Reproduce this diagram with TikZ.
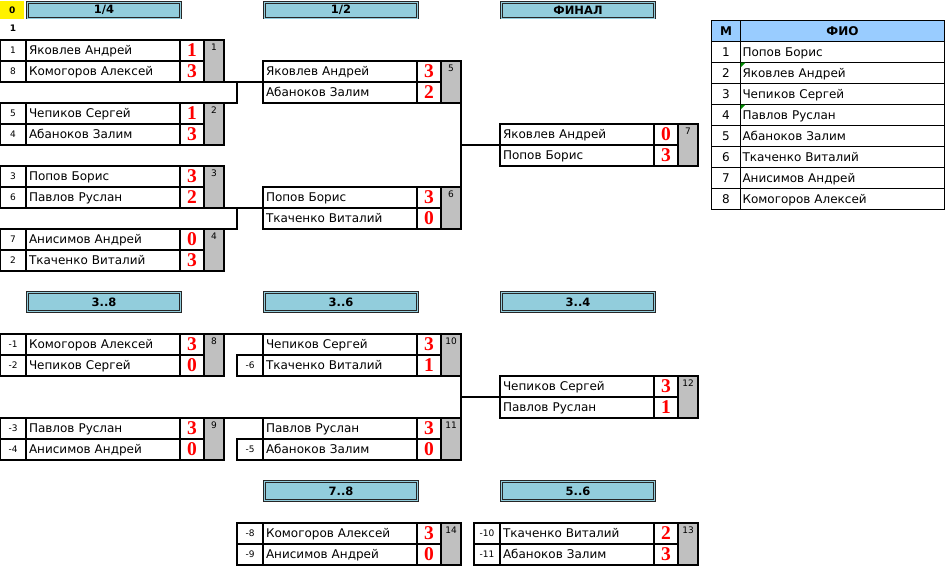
\documentclass[tikz,border=0pt]{standalone}
\usepackage{fontspec}
\setmainfont{DejaVu Sans}
\newfontfamily\scorefont{Liberation Serif}
\definecolor{hdrblue}{RGB}{146,205,220}
\definecolor{tblblue}{RGB}{153,204,255}
\definecolor{cellgray}{RGB}{192,192,192}
\begin{document}
\begin{tikzpicture}[x=1pt, y=-1pt,
  cell/.style={draw, line width=2pt, inner sep=0pt, outer sep=0pt, anchor=north west, minimum height=21pt},
  seedbox/.style={cell, minimum width=26pt, text height=6.5pt, text depth=0pt, font=\fontsize{9}{9}\selectfont},
  namebox/.style={cell, minimum width=154pt, text width=148pt, inner xsep=3pt, align=left, text height=10pt, text depth=0.5pt, font=\fontsize{12}{12}\selectfont},
  scorebox/.style={cell, minimum width=24pt, text=red, font=\scorefont\bfseries\fontsize{19.5}{19.5}\selectfont},
  numbox/.style={cell, minimum width=20pt, minimum height=42pt, fill=cellgray},
  numlbl/.style={anchor=north, inner sep=4.5pt, font=\fontsize{9}{9}\selectfont},
  hdrbox/.style={draw=black!85, double=hdrblue, double distance=1pt, line width=0.8pt, fill=hdrblue, anchor=north west, inner sep=0pt, outer sep=0pt, minimum width=153pt, font=\bfseries\fontsize{11.5}{11.5}\selectfont},
  tblbox/.style={draw, line width=0.8pt, inner sep=0pt, outer sep=0pt, anchor=north west, minimum height=21pt, font=\fontsize{12}{12}\selectfont},
  tblnum/.style={tblbox, minimum width=29pt},
  tblname/.style={tblbox, minimum width=204pt, text width=200pt, inner xsep=2pt, align=left, text height=10pt, text depth=0.5pt},
  link/.style={line width=2pt}]
\useasboundingbox (0,0) rectangle (945,565);
\node[fill=yellow, anchor=north west, minimum width=24pt, minimum height=18pt, inner sep=0pt, font=\bfseries\fontsize{9}{9}\selectfont] (zero) at (0,1){0};
\node[font=\bfseries\fontsize{9}{9}\selectfont] (rnd) at (13,28){1};
\node[hdrbox, minimum height=15.5pt] (h14) at (27.5,2.5){1/4};
\node[hdrbox, minimum height=15.5pt] (h12) at (264.5,2.5){1/2};
\node[hdrbox, minimum height=15.5pt] (hfin) at (501.5,2.5){ФИНАЛ};
\node[hdrbox, minimum height=19pt] (h38) at (27.5,292.5){3..8};
\node[hdrbox, minimum height=19pt] (h36) at (264.5,292.5){3..6};
\node[hdrbox, minimum height=19pt] (h34) at (501.5,292.5){3..4};
\node[hdrbox, minimum height=19pt] (h78) at (264.5,481.5){7..8};
\node[hdrbox, minimum height=19pt] (h56) at (501.5,481.5){5..6};

\node[seedbox] (s1a) at (0,39.5){1};
\node[namebox] (n1a) at (26,39.5){Яковлев Андрей};
\node[scorebox] (r1a) at (180,39.5){1};
\node[seedbox] (s1b) at (0,60.5){8};
\node[namebox] (n1b) at (26,60.5){Комогоров Алексей};
\node[scorebox] (r1b) at (180,60.5){3};
\node[numbox, label={[numlbl]north:1}] (m1) at (204,39.5){};
\node[seedbox] (s2a) at (0,102.5){5};
\node[namebox] (n2a) at (26,102.5){Чепиков Сергей};
\node[scorebox] (r2a) at (180,102.5){1};
\node[seedbox] (s2b) at (0,123.5){4};
\node[namebox] (n2b) at (26,123.5){Абаноков Залим};
\node[scorebox] (r2b) at (180,123.5){3};
\node[numbox, label={[numlbl]north:2}] (m2) at (204,102.5){};
\node[seedbox] (s3a) at (0,165.5){3};
\node[namebox] (n3a) at (26,165.5){Попов Борис};
\node[scorebox] (r3a) at (180,165.5){3};
\node[seedbox] (s3b) at (0,186.5){6};
\node[namebox] (n3b) at (26,186.5){Павлов Руслан};
\node[scorebox] (r3b) at (180,186.5){2};
\node[numbox, label={[numlbl]north:3}] (m3) at (204,165.5){};
\node[seedbox] (s4a) at (0,228.5){7};
\node[namebox] (n4a) at (26,228.5){Анисимов Андрей};
\node[scorebox] (r4a) at (180,228.5){0};
\node[seedbox] (s4b) at (0,249.5){2};
\node[namebox] (n4b) at (26,249.5){Ткаченко Виталий};
\node[scorebox] (r4b) at (180,249.5){3};
\node[numbox, label={[numlbl]north:4}] (m4) at (204,228.5){};

\node[namebox] (n5a) at (263,60.5){Яковлев Андрей};
\node[scorebox] (r5a) at (417,60.5){3};
\node[namebox] (n5b) at (263,81.5){Абаноков Залим};
\node[scorebox] (r5b) at (417,81.5){2};
\node[numbox, label={[numlbl]north:5}] (m5) at (441,60.5){};
\node[namebox] (n6a) at (263,186.5){Попов Борис};
\node[scorebox] (r6a) at (417,186.5){3};
\node[namebox] (n6b) at (263,207.5){Ткаченко Виталий};
\node[scorebox] (r6b) at (417,207.5){0};
\node[numbox, label={[numlbl]north:6}] (m6) at (441,186.5){};

\node[namebox] (n7a) at (500,123.5){Яковлев Андрей};
\node[scorebox] (r7a) at (654,123.5){0};
\node[namebox] (n7b) at (500,144.5){Попов Борис};
\node[scorebox] (r7b) at (654,144.5){3};
\node[numbox, label={[numlbl]north:7}] (m7) at (678,123.5){};

\draw[link](m1.south east) -- (n5b.north west);
\coordinate (j2) at (237,102.5);
\draw[link](m2.north east) -- (j2) -- (j2 |- n5b.north west);
\draw[link](m3.south east) -- (n6b.north west);
\coordinate (j4) at (237,228.5);
\draw[link](m4.north east) -- (j4) -- (j4 |- n6b.north west);
\draw[link](m5.south east) -- (m6.north east);
\draw[link](m5.south east |- n7b.north west) -- (n7b.north west);

\node[seedbox] (s8a) at (0,333.5){-1};
\node[namebox] (n8a) at (26,333.5){Комогоров Алексей};
\node[scorebox] (r8a) at (180,333.5){3};
\node[seedbox] (s8b) at (0,354.5){-2};
\node[namebox] (n8b) at (26,354.5){Чепиков Сергей};
\node[scorebox] (r8b) at (180,354.5){0};
\node[numbox, label={[numlbl]north:8}] (m8) at (204,333.5){};
\node[seedbox] (s9a) at (0,417.5){-3};
\node[namebox] (n9a) at (26,417.5){Павлов Руслан};
\node[scorebox] (r9a) at (180,417.5){3};
\node[seedbox] (s9b) at (0,438.5){-4};
\node[namebox] (n9b) at (26,438.5){Анисимов Андрей};
\node[scorebox] (r9b) at (180,438.5){0};
\node[numbox, label={[numlbl]north:9}] (m9) at (204,417.5){};

\node[namebox] (n10a) at (263,333.5){Чепиков Сергей};
\node[scorebox] (r10a) at (417,333.5){3};
\node[seedbox] (s10b) at (237,354.5){-6};
\node[namebox] (n10b) at (263,354.5){Ткаченко Виталий};
\node[scorebox] (r10b) at (417,354.5){1};
\node[numbox, label={[numlbl]north:10}] (m10) at (441,333.5){};
\node[namebox] (n11a) at (263,417.5){Павлов Руслан};
\node[scorebox] (r11a) at (417,417.5){3};
\node[seedbox] (s11b) at (237,438.5){-5};
\node[namebox] (n11b) at (263,438.5){Абаноков Залим};
\node[scorebox] (r11b) at (417,438.5){0};
\node[numbox, label={[numlbl]north:11}] (m11) at (441,417.5){};

\node[namebox] (n12a) at (500,375.5){Чепиков Сергей};
\node[scorebox] (r12a) at (654,375.5){3};
\node[namebox] (n12b) at (500,396.5){Павлов Руслан};
\node[scorebox] (r12b) at (654,396.5){1};
\node[numbox, label={[numlbl]north:12}] (m12) at (678,375.5){};

\draw[link](m8.north east) -- (n10a.north west);
\draw[link](m9.north east) -- (n11a.north west);
\draw[link](m10.south east) -- (m11.north east);
\draw[link](m10.south east |- n12b.north west) -- (n12b.north west);

\node[seedbox] (s14a) at (237,522.5){-8};
\node[namebox] (n14a) at (263,522.5){Комогоров Алексей};
\node[scorebox] (r14a) at (417,522.5){3};
\node[seedbox] (s14b) at (237,543.5){-9};
\node[namebox] (n14b) at (263,543.5){Анисимов Андрей};
\node[scorebox] (r14b) at (417,543.5){0};
\node[numbox, label={[numlbl]north:14}] (m14) at (441,522.5){};
\node[seedbox] (s13a) at (474,522.5){-10};
\node[namebox] (n13a) at (500,522.5){Ткаченко Виталий};
\node[scorebox] (r13a) at (654,522.5){2};
\node[seedbox] (s13b) at (474,543.5){-11};
\node[namebox] (n13b) at (500,543.5){Абаноков Залим};
\node[scorebox] (r13b) at (654,543.5){3};
\node[numbox, label={[numlbl]north:13}] (m13) at (678,522.5){};

\node[tblnum, fill=tblblue, font=\bfseries\fontsize{12}{12}\selectfont] (th) at (711.5,20.5){М};
\node[tblbox, minimum width=204pt, fill=tblblue, font=\bfseries\fontsize{12}{12}\selectfont] (thn) at (740.5,20.5){ФИО};
\node[tblnum] (t1) at (711.5,41.5){1};
\node[tblname] (t1n) at (740.5,41.5){Попов Борис};
\node[tblnum] (t2) at (711.5,62.5){2};
\node[tblname] (t2n) at (740.5,62.5){Яковлев Андрей};
\node[tblnum] (t3) at (711.5,83.5){3};
\node[tblname] (t3n) at (740.5,83.5){Чепиков Сергей};
\node[tblnum] (t4) at (711.5,104.5){4};
\node[tblname] (t4n) at (740.5,104.5){Павлов Руслан};
\node[tblnum] (t5) at (711.5,125.5){5};
\node[tblname] (t5n) at (740.5,125.5){Абаноков Залим};
\node[tblnum] (t6) at (711.5,146.5){6};
\node[tblname] (t6n) at (740.5,146.5){Ткаченко Виталий};
\node[tblnum] (t7) at (711.5,167.5){7};
\node[tblname] (t7n) at (740.5,167.5){Анисимов Андрей};
\node[tblnum] (t8) at (711.5,188.5){8};
\node[tblname] (t8n) at (740.5,188.5){Комогоров Алексей};
\fill[green!55!black](t2n.north west) -- ++(5,0) -- ++(-5,5) -- cycle;
\fill[green!55!black](t4n.north west) -- ++(5,0) -- ++(-5,5) -- cycle;

\end{tikzpicture}
\end{document}
